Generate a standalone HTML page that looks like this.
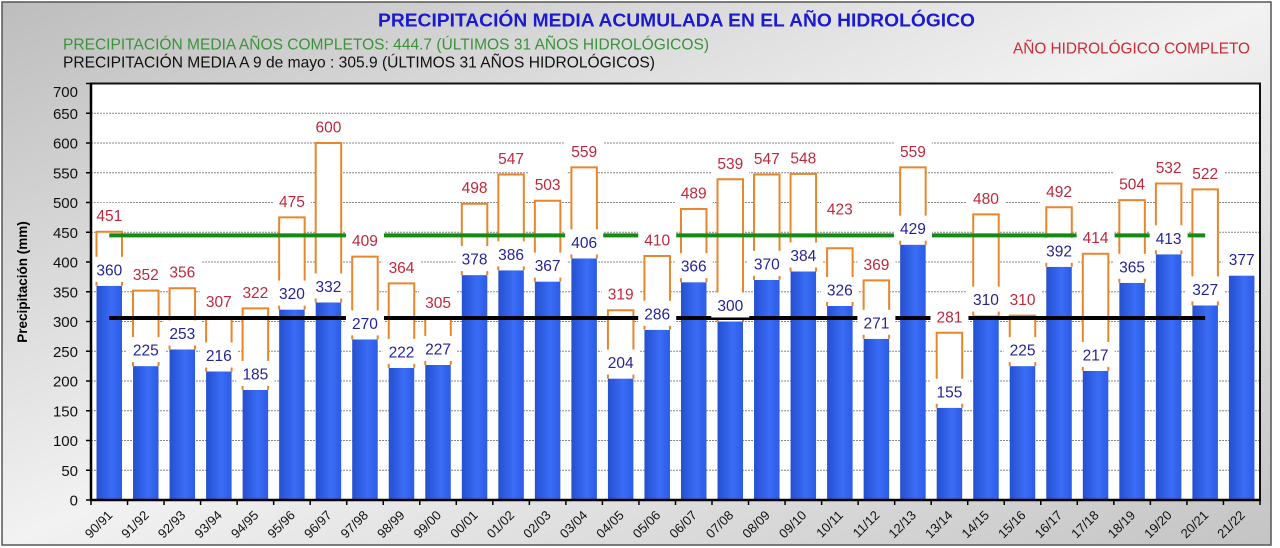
<!DOCTYPE html>
<html><head><meta charset="utf-8"><style>
html,body{margin:0;padding:0;background:#fff;}
svg{display:block;font-family:"Liberation Sans",Arial,sans-serif;}
</style></head><body>
<svg width="1280" height="548" xmlns="http://www.w3.org/2000/svg">
<defs>
<linearGradient id="bg" x1="0" y1="0" x2="1" y2="1">
<stop offset="0" stop-color="#bdbdbd"/><stop offset="0.5" stop-color="#f2f2f2"/><stop offset="1" stop-color="#c4c4c4"/>
</linearGradient>
<linearGradient id="bar" x1="0" y1="0" x2="1" y2="0">
<stop offset="0" stop-color="#2550cf"/><stop offset="0.6" stop-color="#3a6cf6"/><stop offset="1" stop-color="#2d5ce4"/>
</linearGradient>
</defs>
<rect x="0" y="0" width="1280" height="548" fill="#fff"/>
<rect x="2" y="2" width="1269" height="543" fill="url(#bg)" stroke="#555" stroke-width="1.5"/>
<text x="378" y="26.5" font-size="18.5" font-weight="bold" fill="#1a1ad0" textLength="597" lengthAdjust="spacingAndGlyphs">PRECIPITACIÓN MEDIA ACUMULADA EN EL AÑO HIDROLÓGICO</text>
<text x="63" y="49.3" font-size="16" fill="#3a933a" textLength="646" lengthAdjust="spacingAndGlyphs">PRECIPITACIÓN MEDIA AÑOS COMPLETOS: 444.7 (ÚLTIMOS 31 AÑOS HIDROLÓGICOS)</text>
<text x="63" y="67.3" font-size="16" fill="#111" textLength="592" lengthAdjust="spacingAndGlyphs">PRECIPITACIÓN MEDIA A 9 de mayo : 305.9 (ÚLTIMOS 31 AÑOS HIDROLÓGICOS)</text>
<text x="1013" y="53.3" font-size="16" fill="#cc2a36" textLength="237" lengthAdjust="spacingAndGlyphs">AÑO HIDROLÓGICO COMPLETO</text>
<text transform="translate(27,282) rotate(-90)" text-anchor="middle" font-size="13.5" font-weight="bold" fill="#000">Precipitación (mm)</text>
<rect x="91" y="83.5" width="1169" height="416.5" fill="#fff"/>
<g stroke="#888" stroke-width="1" stroke-dasharray="2,1">
<line x1="91" x2="1260" y1="470.25" y2="470.25"/><line x1="91" x2="1260" y1="440.5" y2="440.5"/><line x1="91" x2="1260" y1="410.75" y2="410.75"/><line x1="91" x2="1260" y1="381" y2="381"/><line x1="91" x2="1260" y1="351.25" y2="351.25"/><line x1="91" x2="1260" y1="321.5" y2="321.5"/><line x1="91" x2="1260" y1="291.75" y2="291.75"/><line x1="91" x2="1260" y1="262" y2="262"/><line x1="91" x2="1260" y1="232.25" y2="232.25"/><line x1="91" x2="1260" y1="202.5" y2="202.5"/><line x1="91" x2="1260" y1="172.75" y2="172.75"/><line x1="91" x2="1260" y1="143" y2="143"/><line x1="91" x2="1260" y1="113.25" y2="113.25"/>
</g>
<g fill="url(#bar)">
<rect x="96.5" y="285.8" width="25.5" height="214.2"/><rect x="133.03" y="366.1" width="25.5" height="133.9"/><rect x="169.56" y="349.5" width="25.5" height="150.5"/><rect x="206.09" y="371.5" width="25.5" height="128.5"/><rect x="242.62" y="389.9" width="25.5" height="110.1"/><rect x="279.15" y="309.6" width="25.5" height="190.4"/><rect x="315.68" y="302.5" width="25.5" height="197.5"/><rect x="352.21" y="339.4" width="25.5" height="160.6"/><rect x="388.74" y="367.9" width="25.5" height="132.1"/><rect x="425.27" y="364.9" width="25.5" height="135.1"/><rect x="461.8" y="275.1" width="25.5" height="224.9"/><rect x="498.33" y="270.3" width="25.5" height="229.7"/><rect x="534.86" y="281.6" width="25.5" height="218.4"/><rect x="571.39" y="258.4" width="25.5" height="241.6"/><rect x="607.92" y="378.6" width="25.5" height="121.4"/><rect x="644.45" y="329.8" width="25.5" height="170.2"/><rect x="680.98" y="282.2" width="25.5" height="217.8"/><rect x="717.51" y="321.5" width="25.5" height="178.5"/><rect x="754.04" y="279.9" width="25.5" height="220.1"/><rect x="790.57" y="271.5" width="25.5" height="228.5"/><rect x="827.1" y="306" width="25.5" height="194"/><rect x="863.63" y="338.8" width="25.5" height="161.2"/><rect x="900.16" y="244.7" width="25.5" height="255.3"/><rect x="936.69" y="407.8" width="25.5" height="92.2"/><rect x="973.22" y="315.6" width="25.5" height="184.4"/><rect x="1009.75" y="366.1" width="25.5" height="133.9"/><rect x="1046.28" y="266.8" width="25.5" height="233.2"/><rect x="1082.81" y="370.9" width="25.5" height="129.1"/><rect x="1119.34" y="282.8" width="25.5" height="217.2"/><rect x="1155.87" y="254.3" width="25.5" height="245.7"/><rect x="1192.4" y="305.4" width="25.5" height="194.6"/><rect x="1228.93" y="275.7" width="25.5" height="224.3"/>
</g>
<g fill="#fff">
<rect x="96.5" y="231.7" width="25.5" height="54.1"/><rect x="133.03" y="290.6" width="25.5" height="75.5"/><rect x="169.56" y="288.2" width="25.5" height="61.3"/><rect x="206.09" y="317.3" width="25.5" height="54.2"/><rect x="242.62" y="308.4" width="25.5" height="81.5"/><rect x="279.15" y="217.4" width="25.5" height="92.2"/><rect x="315.68" y="143" width="25.5" height="159.5"/><rect x="352.21" y="256.6" width="25.5" height="82.8"/><rect x="388.74" y="283.4" width="25.5" height="84.5"/><rect x="425.27" y="318.5" width="25.5" height="46.4"/><rect x="461.8" y="203.7" width="25.5" height="71.4"/><rect x="498.33" y="174.5" width="25.5" height="95.8"/><rect x="534.86" y="200.7" width="25.5" height="80.9"/><rect x="571.39" y="167.4" width="25.5" height="91"/><rect x="607.92" y="310.2" width="25.5" height="68.4"/><rect x="644.45" y="256" width="25.5" height="73.8"/><rect x="680.98" y="209" width="25.5" height="73.2"/><rect x="717.51" y="179.3" width="25.5" height="142.2"/><rect x="754.04" y="174.5" width="25.5" height="105.4"/><rect x="790.57" y="173.9" width="25.5" height="97.6"/><rect x="827.1" y="248.3" width="25.5" height="57.7"/><rect x="863.63" y="280.4" width="25.5" height="58.4"/><rect x="900.16" y="167.4" width="25.5" height="77.3"/><rect x="936.69" y="332.8" width="25.5" height="75"/><rect x="973.22" y="214.4" width="25.5" height="101.2"/><rect x="1009.75" y="315.6" width="25.5" height="50.5"/><rect x="1046.28" y="207.3" width="25.5" height="59.5"/><rect x="1082.81" y="253.7" width="25.5" height="117.2"/><rect x="1119.34" y="200.1" width="25.5" height="82.7"/><rect x="1155.87" y="183.5" width="25.5" height="70.8"/><rect x="1192.4" y="189.4" width="25.5" height="116"/>
</g>
<g fill="none" stroke="#e8862c" stroke-width="2">
<path d="M96.5 285.8V231.7H122V285.8"/><path d="M133.03 366.1V290.6H158.53V366.1"/><path d="M169.56 349.5V288.2H195.06V349.5"/><path d="M206.09 371.5V317.3H231.59V371.5"/><path d="M242.62 389.9V308.4H268.12V389.9"/><path d="M279.15 309.6V217.4H304.65V309.6"/><path d="M315.68 302.5V143H341.18V302.5"/><path d="M352.21 339.4V256.6H377.71V339.4"/><path d="M388.74 367.9V283.4H414.24V367.9"/><path d="M425.27 364.9V318.5H450.77V364.9"/><path d="M461.8 275.1V203.7H487.3V275.1"/><path d="M498.33 270.3V174.5H523.83V270.3"/><path d="M534.86 281.6V200.7H560.36V281.6"/><path d="M571.39 258.4V167.4H596.89V258.4"/><path d="M607.92 378.6V310.2H633.42V378.6"/><path d="M644.45 329.8V256H669.95V329.8"/><path d="M680.98 282.2V209H706.48V282.2"/><path d="M717.51 321.5V179.3H743.01V321.5"/><path d="M754.04 279.9V174.5H779.54V279.9"/><path d="M790.57 271.5V173.9H816.07V271.5"/><path d="M827.1 306V248.3H852.6V306"/><path d="M863.63 338.8V280.4H889.13V338.8"/><path d="M900.16 244.7V167.4H925.66V244.7"/><path d="M936.69 407.8V332.8H962.19V407.8"/><path d="M973.22 315.6V214.4H998.72V315.6"/><path d="M1009.75 366.1V315.6H1035.25V366.1"/><path d="M1046.28 266.8V207.3H1071.78V266.8"/><path d="M1082.81 370.9V253.7H1108.31V370.9"/><path d="M1119.34 282.8V200.1H1144.84V282.8"/><path d="M1155.87 254.3V183.5H1181.37V254.3"/><path d="M1192.4 305.4V189.4H1217.9V305.4"/>
</g>
<line x1="109.27" x2="1205.17" y1="235.4" y2="235.4" stroke="#138a13" stroke-width="4"/>
<line x1="109.27" x2="1205.17" y1="318" y2="318" stroke="#000" stroke-width="4"/>
<g fill="#fff">
<rect x="90.27" y="256.8" width="38" height="25"/><rect x="126.8" y="337.1" width="38" height="25"/><rect x="163.33" y="320.5" width="38" height="25"/><rect x="199.86" y="342.5" width="38" height="25"/><rect x="236.39" y="360.9" width="38" height="25"/><rect x="272.92" y="280.6" width="38" height="25"/><rect x="309.45" y="273.5" width="38" height="25"/><rect x="345.98" y="310.4" width="38" height="25"/><rect x="382.51" y="338.9" width="38" height="25"/><rect x="419.04" y="335.9" width="38" height="25"/><rect x="455.57" y="246.1" width="38" height="25"/><rect x="492.1" y="241.3" width="38" height="25"/><rect x="528.63" y="252.6" width="38" height="25"/><rect x="565.16" y="229.4" width="38" height="25"/><rect x="601.69" y="349.6" width="38" height="25"/><rect x="638.22" y="300.8" width="38" height="25"/><rect x="674.75" y="253.2" width="38" height="25"/><rect x="711.28" y="292.5" width="38" height="25"/><rect x="747.81" y="250.9" width="38" height="25"/><rect x="784.34" y="242.5" width="38" height="25"/><rect x="820.87" y="277" width="38" height="25"/><rect x="857.4" y="309.8" width="38" height="25"/><rect x="893.93" y="215.7" width="38" height="25"/><rect x="930.46" y="378.8" width="38" height="25"/><rect x="966.99" y="286.6" width="38" height="25"/><rect x="1003.52" y="337.1" width="38" height="25"/><rect x="1040.05" y="237.8" width="38" height="25"/><rect x="1076.58" y="341.9" width="38" height="25"/><rect x="1113.11" y="253.8" width="38" height="25"/><rect x="1149.64" y="225.3" width="38" height="25"/><rect x="1186.17" y="276.4" width="38" height="25"/><rect x="1222.7" y="246.7" width="38" height="25"/>
<rect x="90.27" y="202.7" width="38" height="25"/><rect x="126.8" y="261.6" width="38" height="25"/><rect x="163.33" y="259.2" width="38" height="25"/><rect x="199.86" y="288.3" width="38" height="25"/><rect x="236.39" y="279.4" width="38" height="25"/><rect x="272.92" y="188.4" width="38" height="25"/><rect x="309.45" y="114" width="38" height="25"/><rect x="345.98" y="227.6" width="38" height="25"/><rect x="382.51" y="254.4" width="38" height="25"/><rect x="419.04" y="289.5" width="38" height="25"/><rect x="455.57" y="174.7" width="38" height="25"/><rect x="492.1" y="145.5" width="38" height="25"/><rect x="528.63" y="171.7" width="38" height="25"/><rect x="565.16" y="138.4" width="38" height="25"/><rect x="601.69" y="281.2" width="38" height="25"/><rect x="638.22" y="227" width="38" height="25"/><rect x="674.75" y="180" width="38" height="25"/><rect x="711.28" y="150.3" width="38" height="25"/><rect x="747.81" y="145.5" width="38" height="25"/><rect x="784.34" y="144.9" width="38" height="25"/><rect x="820.87" y="196" width="38" height="25"/><rect x="857.4" y="251.4" width="38" height="25"/><rect x="893.93" y="138.4" width="38" height="25"/><rect x="930.46" y="303.8" width="38" height="25"/><rect x="966.99" y="185.4" width="38" height="25"/><rect x="1003.52" y="286.6" width="38" height="25"/><rect x="1040.05" y="178.3" width="38" height="25"/><rect x="1076.58" y="224.7" width="38" height="25"/><rect x="1113.11" y="171.1" width="38" height="25"/><rect x="1149.64" y="154.5" width="38" height="25"/><rect x="1186.17" y="160.4" width="38" height="25"/>
</g>
<g font-size="15.5" fill="#24249a" text-anchor="middle">
<text x="109.27" y="275.3">360</text><text x="145.8" y="355.6">225</text><text x="182.33" y="339">253</text><text x="218.86" y="361">216</text><text x="255.39" y="379.4">185</text><text x="291.92" y="299.1">320</text><text x="328.45" y="292">332</text><text x="364.98" y="328.9">270</text><text x="401.51" y="357.4">222</text><text x="438.04" y="354.4">227</text><text x="474.57" y="264.6">378</text><text x="511.1" y="259.8">386</text><text x="547.63" y="271.1">367</text><text x="584.16" y="247.9">406</text><text x="620.69" y="368.1">204</text><text x="657.22" y="319.3">286</text><text x="693.75" y="271.7">366</text><text x="730.28" y="311">300</text><text x="766.81" y="269.4">370</text><text x="803.34" y="261">384</text><text x="839.87" y="295.5">326</text><text x="876.4" y="328.3">271</text><text x="912.93" y="234.2">429</text><text x="949.46" y="397.3">155</text><text x="985.99" y="305.1">310</text><text x="1022.52" y="355.6">225</text><text x="1059.05" y="256.3">392</text><text x="1095.58" y="360.4">217</text><text x="1132.11" y="272.3">365</text><text x="1168.64" y="243.8">413</text><text x="1205.17" y="294.9">327</text><text x="1241.7" y="265.2">377</text>
</g>
<g font-size="15.5" fill="#c0283c" text-anchor="middle">
<text x="109.27" y="221.2">451</text><text x="145.8" y="280.1">352</text><text x="182.33" y="277.7">356</text><text x="218.86" y="306.8">307</text><text x="255.39" y="297.9">322</text><text x="291.92" y="206.9">475</text><text x="328.45" y="132.5">600</text><text x="364.98" y="246.1">409</text><text x="401.51" y="272.9">364</text><text x="438.04" y="308">305</text><text x="474.57" y="193.2">498</text><text x="511.1" y="164">547</text><text x="547.63" y="190.2">503</text><text x="584.16" y="156.9">559</text><text x="620.69" y="299.7">319</text><text x="657.22" y="245.5">410</text><text x="693.75" y="198.5">489</text><text x="730.28" y="168.8">539</text><text x="766.81" y="164">547</text><text x="803.34" y="163.4">548</text><text x="839.87" y="214.5">423</text><text x="876.4" y="269.9">369</text><text x="912.93" y="156.9">559</text><text x="949.46" y="322.3">281</text><text x="985.99" y="203.9">480</text><text x="1022.52" y="305.1">310</text><text x="1059.05" y="196.8">492</text><text x="1095.58" y="243.2">414</text><text x="1132.11" y="189.6">504</text><text x="1168.64" y="173">532</text><text x="1205.17" y="178.9">522</text>
</g>
<rect x="91" y="83.5" width="1169" height="416.5" fill="none" stroke="#111" stroke-width="2"/>
<line x1="91" x2="91" y1="83" y2="501" stroke="#000" stroke-width="2.5"/>
<line x1="90" x2="1261" y1="500" y2="500" stroke="#000" stroke-width="2.5"/>
<g stroke="#000" stroke-width="1.5">
<line x1="86" x2="91" y1="500" y2="500"/><line x1="86" x2="91" y1="470.25" y2="470.25"/><line x1="86" x2="91" y1="440.5" y2="440.5"/><line x1="86" x2="91" y1="410.75" y2="410.75"/><line x1="86" x2="91" y1="381" y2="381"/><line x1="86" x2="91" y1="351.25" y2="351.25"/><line x1="86" x2="91" y1="321.5" y2="321.5"/><line x1="86" x2="91" y1="291.75" y2="291.75"/><line x1="86" x2="91" y1="262" y2="262"/><line x1="86" x2="91" y1="232.25" y2="232.25"/><line x1="86" x2="91" y1="202.5" y2="202.5"/><line x1="86" x2="91" y1="172.75" y2="172.75"/><line x1="86" x2="91" y1="143" y2="143"/><line x1="86" x2="91" y1="113.25" y2="113.25"/><line x1="86" x2="91" y1="83.5" y2="83.5"/>
<line x1="91" x2="91" y1="500" y2="505"/><line x1="127.53" x2="127.53" y1="500" y2="505"/><line x1="164.06" x2="164.06" y1="500" y2="505"/><line x1="200.59" x2="200.59" y1="500" y2="505"/><line x1="237.12" x2="237.12" y1="500" y2="505"/><line x1="273.65" x2="273.65" y1="500" y2="505"/><line x1="310.18" x2="310.18" y1="500" y2="505"/><line x1="346.71" x2="346.71" y1="500" y2="505"/><line x1="383.24" x2="383.24" y1="500" y2="505"/><line x1="419.77" x2="419.77" y1="500" y2="505"/><line x1="456.3" x2="456.3" y1="500" y2="505"/><line x1="492.83" x2="492.83" y1="500" y2="505"/><line x1="529.36" x2="529.36" y1="500" y2="505"/><line x1="565.89" x2="565.89" y1="500" y2="505"/><line x1="602.42" x2="602.42" y1="500" y2="505"/><line x1="638.95" x2="638.95" y1="500" y2="505"/><line x1="675.48" x2="675.48" y1="500" y2="505"/><line x1="712.01" x2="712.01" y1="500" y2="505"/><line x1="748.54" x2="748.54" y1="500" y2="505"/><line x1="785.07" x2="785.07" y1="500" y2="505"/><line x1="821.6" x2="821.6" y1="500" y2="505"/><line x1="858.13" x2="858.13" y1="500" y2="505"/><line x1="894.66" x2="894.66" y1="500" y2="505"/><line x1="931.19" x2="931.19" y1="500" y2="505"/><line x1="967.72" x2="967.72" y1="500" y2="505"/><line x1="1004.25" x2="1004.25" y1="500" y2="505"/><line x1="1040.78" x2="1040.78" y1="500" y2="505"/><line x1="1077.31" x2="1077.31" y1="500" y2="505"/><line x1="1113.84" x2="1113.84" y1="500" y2="505"/><line x1="1150.37" x2="1150.37" y1="500" y2="505"/><line x1="1186.9" x2="1186.9" y1="500" y2="505"/><line x1="1223.43" x2="1223.43" y1="500" y2="505"/><line x1="1260" x2="1260" y1="500" y2="505"/>
</g>
<g font-size="15" fill="#111" text-anchor="end">
<text x="78" y="505.5">0</text><text x="78" y="475.75">50</text><text x="78" y="446">100</text><text x="78" y="416.25">150</text><text x="78" y="386.5">200</text><text x="78" y="356.75">250</text><text x="78" y="327">300</text><text x="78" y="297.25">350</text><text x="78" y="267.5">400</text><text x="78" y="237.75">450</text><text x="78" y="208">500</text><text x="78" y="178.25">550</text><text x="78" y="148.5">600</text><text x="78" y="118.75">650</text><text x="78" y="97">700</text>
</g>
<g font-size="13" fill="#111" text-anchor="end">
<text transform="translate(113.3,516) rotate(-45)">90/91</text><text transform="translate(149.8,516) rotate(-45)">91/92</text><text transform="translate(186.3,516) rotate(-45)">92/93</text><text transform="translate(222.9,516) rotate(-45)">93/94</text><text transform="translate(259.4,516) rotate(-45)">94/95</text><text transform="translate(295.9,516) rotate(-45)">95/96</text><text transform="translate(332.5,516) rotate(-45)">96/97</text><text transform="translate(369,516) rotate(-45)">97/98</text><text transform="translate(405.5,516) rotate(-45)">98/99</text><text transform="translate(442,516) rotate(-45)">99/00</text><text transform="translate(478.6,516) rotate(-45)">00/01</text><text transform="translate(515.1,516) rotate(-45)">01/02</text><text transform="translate(551.6,516) rotate(-45)">02/03</text><text transform="translate(588.2,516) rotate(-45)">03/04</text><text transform="translate(624.7,516) rotate(-45)">04/05</text><text transform="translate(661.2,516) rotate(-45)">05/06</text><text transform="translate(697.8,516) rotate(-45)">06/07</text><text transform="translate(734.3,516) rotate(-45)">07/08</text><text transform="translate(770.8,516) rotate(-45)">08/09</text><text transform="translate(807.3,516) rotate(-45)">09/10</text><text transform="translate(843.9,516) rotate(-45)">10/11</text><text transform="translate(880.4,516) rotate(-45)">11/12</text><text transform="translate(916.9,516) rotate(-45)">12/13</text><text transform="translate(953.5,516) rotate(-45)">13/14</text><text transform="translate(990,516) rotate(-45)">14/15</text><text transform="translate(1026.5,516) rotate(-45)">15/16</text><text transform="translate(1063.1,516) rotate(-45)">16/17</text><text transform="translate(1099.6,516) rotate(-45)">17/18</text><text transform="translate(1136.1,516) rotate(-45)">18/19</text><text transform="translate(1172.6,516) rotate(-45)">19/20</text><text transform="translate(1209.2,516) rotate(-45)">20/21</text><text transform="translate(1245.7,516) rotate(-45)">21/22</text>
</g>
</svg>
</body></html>
